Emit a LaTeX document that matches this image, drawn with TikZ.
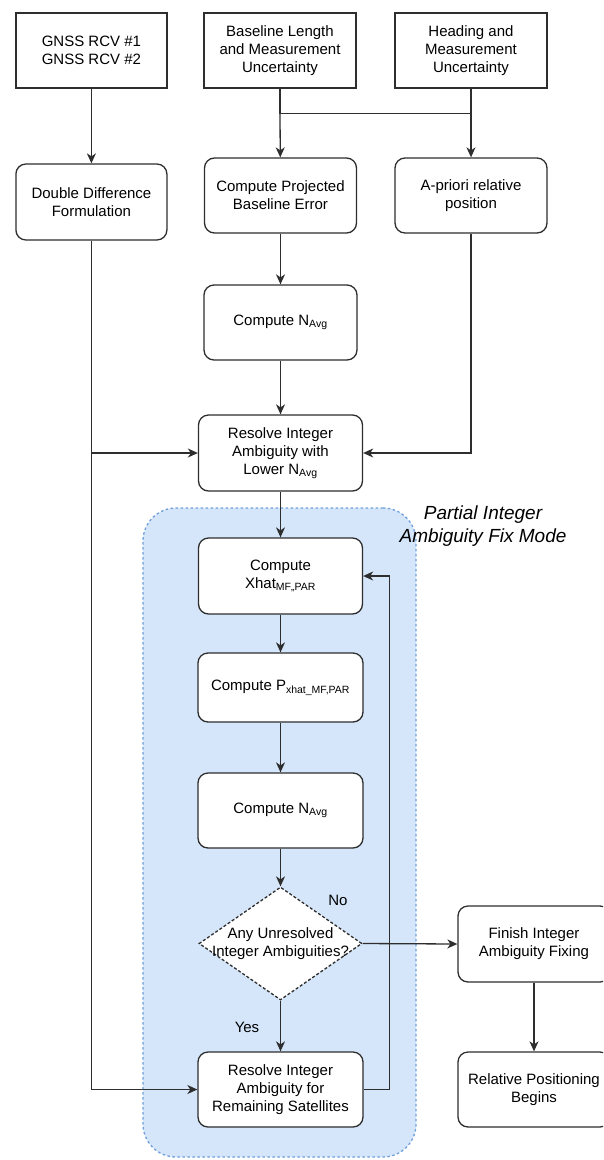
\documentclass[tikz,border=0pt]{standalone}
\usepackage{fontspec}
\setmainfont{Liberation Sans}
\usetikzlibrary{shapes.geometric,arrows.meta}

\definecolor{linegray}{HTML}{2E2E2E}
\definecolor{zonefill}{HTML}{D5E6FA}
\definecolor{zoneedge}{HTML}{6E9FDA}

\tikzset{
  txt/.style={align=center, text=black, font=\fontsize{15}{18}\selectfont, inner sep=1pt},
  base/.style={txt, draw=linegray, line width=1.3pt, fill=white, inner sep=2pt},
  sqbox/.style={base, rectangle, minimum width=#1, minimum height=75pt},
  sqbox/.default=152pt,
  rbox/.style={base, rectangle, rounded corners=10pt, minimum width=#1, minimum height=75pt},
  rbox/.default=152pt,
  decision/.style={draw=linegray, line width=1.3pt, fill=white, dash pattern=on 3pt off 2pt,
    diamond, minimum width=163pt, minimum height=113pt, inner sep=0pt},
  zone/.style={rectangle, rounded corners=33pt, fill=zonefill, draw=zoneedge, line width=1.3pt,
    dash pattern=on 2.5pt off 2.5pt, minimum width=273pt, minimum height=649pt, inner sep=0pt},
  wire/.style={draw=linegray, line width=1.3pt},
  arrow/.style={wire, -{Stealth[length=10pt,width=9pt,inset=3pt]}},
}

\begin{document}
\begin{tikzpicture}[x=1pt, y=-1pt]
  \clip (0,0) rectangle (603,1160);

  % shaded region of the partial fix loop
  \node[zone] (zone) at (279.5,832.5) {};
  \node[txt, font=\fontsize{19}{22.5}\selectfont\itshape] (zonelbl) at (483,526)
    {Partial Integer\\Ambiguity Fix Mode};

  % inputs
  \node[sqbox=151pt] (gnss) at (91.4,50.5) {GNSS RCV \#1\\GNSS RCV \#2};
  \node[sqbox] (base) at (280,50.5) {Baseline Length\\and Measurement\\Uncertainty};
  \node[sqbox] (head) at (471,50.5) {Heading and\\Measurement\\Uncertainty};

  % second row
  \node[rbox=151pt, minimum height=76pt] (dd) at (91.4,202) {Double Difference\\Formulation};
  \node[rbox] (cp) at (280.5,195.5) {Compute Projected\\Baseline Error};
  \node[rbox] (apr) at (471,195.5) {A-priori relative\\position};

  % main chain
  \node[rbox=153pt] (navga) at (280.5,322.5) {Compute N\textsubscript{Avg}};
  \node[rbox=164pt, minimum height=76pt] (low) at (280.5,453) {Resolve Integer\\Ambiguity with\\Lower N\textsubscript{Avg}};
  \node[rbox=164pt, minimum height=76pt] (xhat) at (280.5,576) {Compute\\Xhat\textsubscript{MF,,PAR}};
  \node[rbox=165pt, minimum height=69pt] (pcov) at (280.5,687.5) {Compute P\textsubscript{xhat\_MF,PAR}};
  \node[rbox=165pt] (navgb) at (280.5,810.5) {Compute N\textsubscript{Avg}};
  \node[decision] (dec) at (280.5,943.5) {};
  \node[txt] (dectxt) at (dec.center) {Any Unresolved\\Integer Ambiguities?};
  \node[rbox=165pt] (rem) at (280.5,1089.5) {Resolve Integer\\Ambiguity for\\Remaining Satellites};

  % exit branch
  \node[rbox, minimum height=76pt] (fin) at (534,944) {Finish Integer\\Ambiguity Fixing};
  \node[rbox] (rel) at (534,1089.5) {Relative Positioning\\Begins};

  % branch labels
  \node[txt] (nolbl) at (338,900) {No};
  \node[txt] (yeslbl) at (247,1027) {Yes};

  % connectors
  \draw[arrow] (gnss) -- (dd);
  \path (base.south) ++(0,25) coordinate (jl);
  \path (head.south) ++(0,25) coordinate (jr);
  \draw[wire] (base.south) -- (jl);
  \draw[arrow] (jl) -- (cp);
  \draw[wire] (head.south) -- (jr) -- (jl);
  \draw[arrow] (jr) -- (apr);

  \draw[arrow] (cp) -- (navga);
  \draw[arrow] (navga) -- (low);
  \draw[arrow] (apr.south) |- (low.east);
  \draw[arrow] (dd.south) |- (rem.west);
  \draw[arrow] (dd.south |- low.west) -- (low.west);

  \draw[arrow] (low) -- (xhat);
  \draw[arrow] (xhat) -- (pcov);
  \draw[arrow] (pcov) -- (navgb);
  \draw[arrow] (navgb) -- (dec.north);
  \draw[arrow] (dec.south) -- (rem);
  \draw[arrow] (dec.east) -- (fin.west);
  \draw[arrow] (fin) -- (rel);

  \path (rem.east) ++(26,0) coordinate (fb);
  \draw[arrow] (rem.east) -- (fb) |- (xhat.east);
\end{tikzpicture}
\end{document}
